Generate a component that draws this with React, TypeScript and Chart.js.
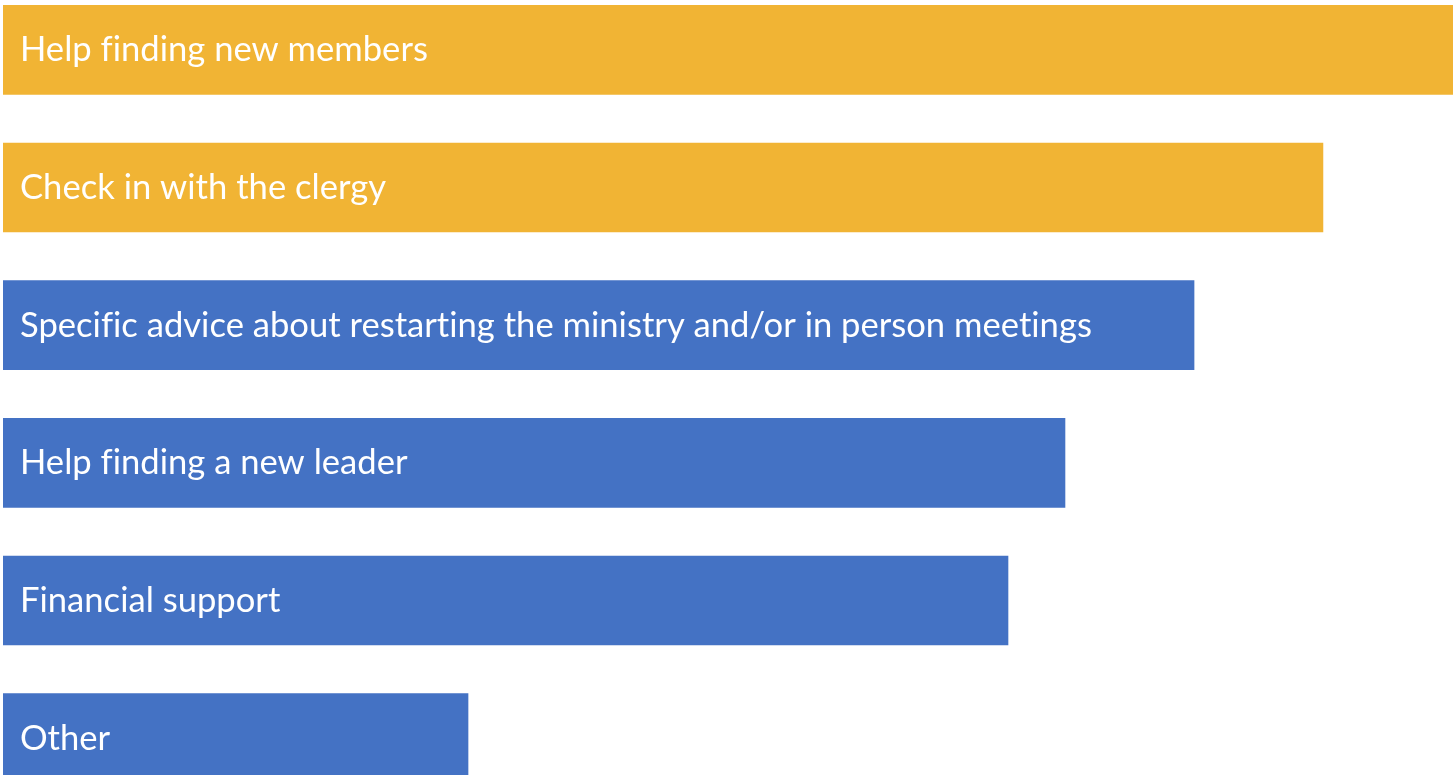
import React, { useEffect, useRef } from "react";
import { Chart, registerables } from "chart.js";

Chart.register(...registerables);

const categories: string[] = [
  "Help finding new members",
  "Check in with the clergy",
  "Specific advice about restarting the ministry and/or in person meetings",
  "Help finding a new leader",
  "Financial support",
  "Other",
];

const values: number[] = [100, 91.03, 82.14, 73.24, 69.31, 32.07];

const barColors: string[] = ["#F1B434", "#F1B434", "#4472C4", "#4472C4", "#4472C4", "#4472C4"];

const insideLabels = {
  id: "insideLabels",
  afterDatasetsDraw(chart: any) {
    const ctx = chart.ctx;
    const meta = chart.getDatasetMeta(0);
    ctx.save();
    ctx.fillStyle = "#FFFFFF";
    ctx.font = "34.6px Lato";
    try {
      (ctx as any).letterSpacing = "0.01px";
    } catch (e) {}
    ctx.textAlign = "left";
    ctx.textBaseline = "alphabetic";
    meta.data.forEach((bar: any, i: number) => {
      ctx.fillText(chart.data.labels[i], bar.base + 17, bar.y + 11.5);
    });
    ctx.restore();
  },
};

export default function App() {
  const ref = useRef<HTMLCanvasElement | null>(null);
  useEffect(() => {
    if (!ref.current) return;
    const chart = new Chart(ref.current, {
      type: "bar",
      data: {
        labels: categories,
        datasets: [
          {
            data: values,
            backgroundColor: barColors,
            borderWidth: 0,
            barThickness: 89,
          },
        ],
      },
      options: {
        indexAxis: "y",
        responsive: false,
        animation: false,
        layout: { padding: { left: 3, right: 0, top: 0, bottom: 0 } },
        scales: {
          x: { display: false, min: 0, max: 100 },
          y: { display: false },
        },
        plugins: {
          legend: { display: false },
          tooltip: { enabled: false },
        },
      },
      plugins: [insideLabels],
    });
    return () => chart.destroy();
  }, []);
  return (
    <div
      style={{
        position: "absolute",
        left: 0,
        top: 0,
        width: 1453,
        height: 775,
        overflow: "hidden",
        background: "#FFFFFF",
      }}
    >
      <canvas
        ref={ref}
        width={1453}
        height={826}
        style={{ position: "absolute", left: 0, top: -19, width: 1453, height: 826 }}
      />
    </div>
  );
}
